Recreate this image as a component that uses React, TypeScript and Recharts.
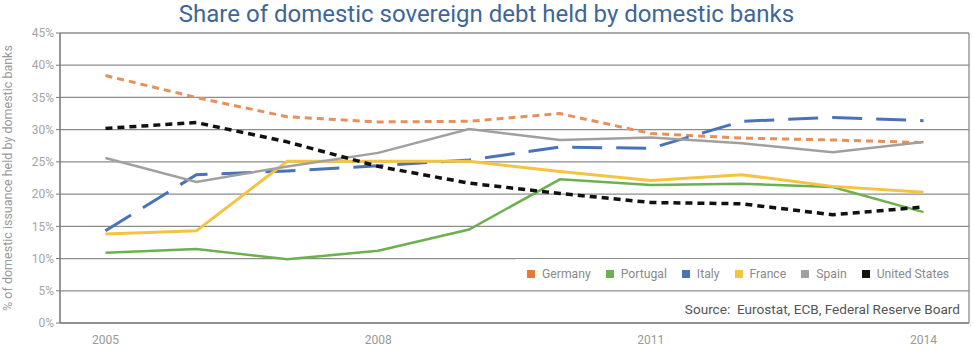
import { LineChart, Line, XAxis, YAxis, CartesianGrid } from "recharts";

const years = [2005, 2006, 2007, 2008, 2009, 2010, 2011, 2012, 2013, 2014];
const yearLabels = [2005, 2008, 2011, 2014];
const pctTicks = [0, 5, 10, 15, 20, 25, 30, 35, 40, 45];

const germany = [38.4, 35.0, 32.0, 31.2, 31.3, 32.5, 29.4, 28.7, 28.4, 28.0];
const portugal = [10.9, 11.5, 9.9, 11.2, 14.5, 22.3, 21.4, 21.6, 21.1, 17.2];
const italy = [14.3, 23.0, 23.6, 24.4, 25.3, 27.3, 27.1, 31.3, 31.9, 31.4];
const france = [13.8, 14.3, 25.1, 25.1, 25.1, 23.5, 22.1, 23.0, 21.2, 20.3];
const spain = [25.6, 21.9, 24.3, 26.4, 30.1, 28.4, 28.8, 27.9, 26.5, 28.1];
const unitedStates = [30.2, 31.1, 28.1, 24.3, 21.7, 20.1, 18.7, 18.5, 16.8, 18.0];

const series = [
  { key: "germany", name: "Germany", color: "#e8905a", legend: "#e07b39", width: 3, dash: "7 5" },
  { key: "portugal", name: "Portugal", color: "#6db04f", legend: "#6db04f", width: 2.5, dash: undefined },
  { key: "italy", name: "Italy", color: "#4a72b8", legend: "#4a72b8", width: 3, dash: "30 14" },
  { key: "france", name: "France", color: "#f5c342", legend: "#f5c342", width: 3, dash: undefined },
  { key: "spain", name: "Spain", color: "#a0a0a0", legend: "#a0a0a0", width: 2.5, dash: undefined },
  { key: "us", name: "United States", color: "#111111", legend: "#111111", width: 3.5, dash: "7 5" },
];

const data = years.map((year, i) => ({
  year,
  germany: germany[i],
  portugal: portugal[i],
  italy: italy[i],
  france: france[i],
  spain: spain[i],
  us: unitedStates[i],
}));

// column boundaries for the grid (half a year either side of each point)
const boundaries = [...years.map((y) => y - 0.5), years[years.length - 1] + 0.5];

const font = "Roboto, 'Liberation Sans', sans-serif";

export default function App() {
  return (
    <div style={{ position: "absolute", left: 0, top: 0, width: 973, height: 351, background: "#fff", fontFamily: font }}>
      <div
        style={{
          position: "absolute",
          left: 0,
          top: 0,
          width: 973,
          textAlign: "center",
          fontSize: 24,
          lineHeight: "28px",
          color: "#3d6699",
        }}
      >
        Share of domestic sovereign debt held by domestic banks
      </div>
      <LineChart width={973} height={351} data={data} margin={{ top: 33, right: 4, bottom: 0, left: 10 }}>
        <CartesianGrid stroke="#8c8c8c" strokeWidth={1.3} />
        <XAxis
          dataKey="year"
          type="number"
          domain={[boundaries[0], boundaries[boundaries.length - 1]]}
          ticks={boundaries}
          interval={0}
          tick={false}
          tickSize={6}
          height={6}
          stroke="#7a7a7a"
        />
        <XAxis
          xAxisId="lbl"
          dataKey="year"
          type="number"
          domain={[boundaries[0], boundaries[boundaries.length - 1]]}
          ticks={yearLabels}
          interval={0}
          axisLine={false}
          tickLine={false}
          tickSize={0}
          tickMargin={6}
          height={22}
          tick={{ fontSize: 12, fill: "#999" }}
        />
        <YAxis
          domain={[0, 45]}
          ticks={pctTicks}
          interval={0}
          width={50}
          tickSize={4}
          tickMargin={2}
          stroke="#7a7a7a"
          tick={{ fontSize: 12, fill: "#a5a5a5" }}
          tickFormatter={(v) => `${v}%`}
          label={{
            value: "% of domestic issuance held by domestic banks",
            angle: -90,
            position: "insideLeft",
            offset: -2,
            style: { fontSize: 12.5, fill: "#9a9a9a", textAnchor: "middle" },
          }}
        />
        {series.map((s) => (
          <Line
            key={s.key}
            dataKey={s.key}
            name={s.name}
            stroke={s.color}
            strokeWidth={s.width}
            strokeDasharray={s.dash}
            dot={false}
            activeDot={false}
            type="linear"
            isAnimationActive={false}
          />
        ))}
      </LineChart>
      <div
        style={{
          position: "absolute",
          left: 516,
          top: 259,
          width: 452,
          height: 30,
          background: "#fff",
          display: "flex",
          alignItems: "center",
          paddingLeft: 11,
          boxSizing: "border-box",
          whiteSpace: "nowrap",
        }}
      >
        {series.map((s) => (
          <div key={s.key} style={{ display: "flex", alignItems: "center", marginRight: 15, flexShrink: 0 }}>
            <span style={{ width: 8, height: 8, background: s.legend, marginRight: 7 }} />
            <span style={{ fontSize: 12.2, color: "#8a8a8a" }}>{s.name}</span>
          </div>
        ))}
      </div>
      <div
        style={{
          position: "absolute",
          left: 650,
          top: 300,
          width: 318,
          height: 18,
          background: "#fff",
          textAlign: "right",
          paddingRight: 8,
          boxSizing: "border-box",
          fontSize: 13.6,
          lineHeight: "18px",
          color: "#555",
          whiteSpace: "pre",
        }}
      >
        {"Source:  Eurostat, ECB, Federal Reserve Board"}
      </div>
    </div>
  );
}
